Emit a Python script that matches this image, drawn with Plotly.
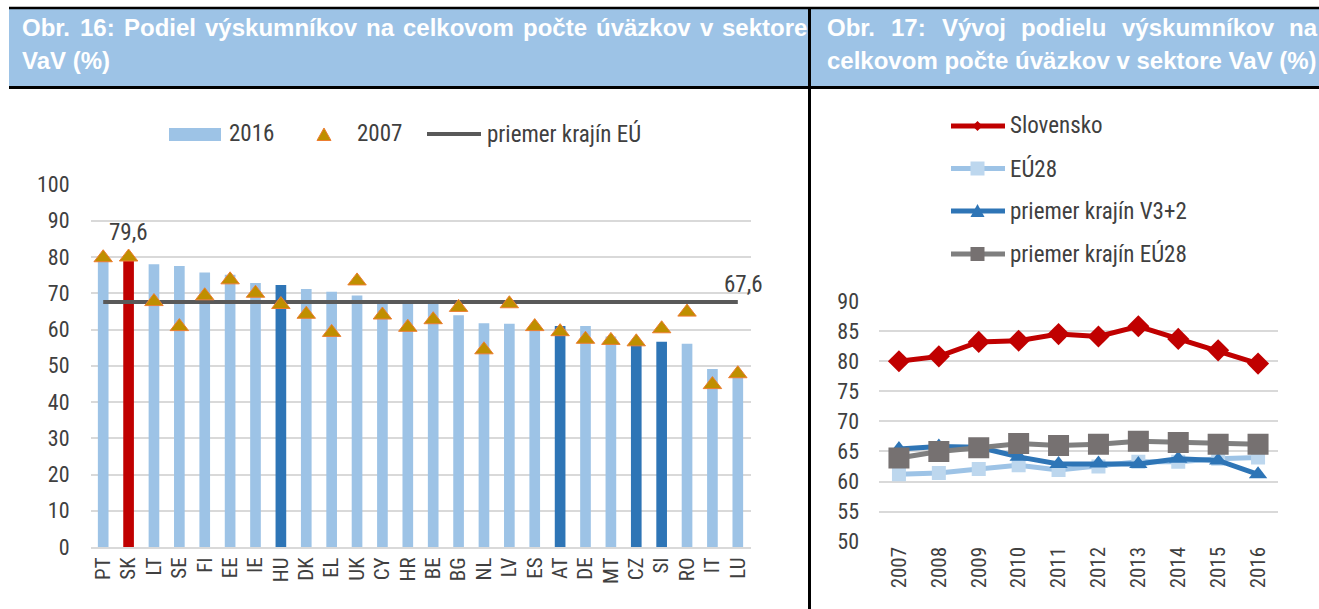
import plotly.graph_objects as go

# ---------------- data ----------------
countries = ["PT", "SK", "LT", "SE", "FI", "EE", "IE", "HU", "DK", "EL", "UK", "CY", "HR",
             "BE", "BG", "NL", "LV", "ES", "AT", "DE", "MT", "CZ", "SI", "RO", "IT", "LU"]
share_2016 = [79.9, 79.6, 78.0, 77.5, 75.7, 75.1, 72.8, 72.3, 71.2, 70.4, 69.4, 67.7, 67.5,
              67.3, 63.9, 61.7, 61.6, 61.3, 61.0, 61.0, 58.1, 56.9, 56.6, 56.1, 49.1, 48.3]
share_2007 = [79.8, 80.0, 67.7, 60.8, 69.3, 73.7, 70.0, 66.9, 64.2, 59.2, 73.4, 64.0, 60.6,
              62.7, 66.1, 54.4, 67.1, 60.8, 59.4, 57.3, 57.0, 56.6, 60.2, 64.8, 44.8, 47.8]
eu_avg_2016 = 67.6
highlight_sk = ["SK"]
highlight_v3 = ["HU", "AT", "CZ", "SI"]

years = ["2007", "2008", "2009", "2010", "2011", "2012", "2013", "2014", "2015", "2016"]
slovensko = [80.0, 80.8, 83.2, 83.4, 84.5, 84.1, 85.8, 83.7, 81.8, 79.6]
eu28 = [61.2, 61.4, 62.1, 62.7, 61.9, 62.5, 63.3, 63.3, 63.8, 64.0]
v3_2 = [65.4, 65.8, 65.7, 64.1, 62.9, 63.0, 62.9, 63.8, 63.5, 61.2]
eu28_avg = [63.9, 65.0, 65.6, 66.3, 66.0, 66.2, 66.7, 66.5, 66.2, 66.2]

title_left_1 = ["Obr.", "16:", "Podiel", "výskumníkov", "na", "celkovom", "počte", "úväzkov", "v", "sektore"]
title_left_2 = "VaV (%)"
title_right_1 = ["Obr.", "17:", "Vývoj", "podielu", "výskumníkov", "na"]
title_right_2 = "celkovom počte úväzkov v sektore VaV (%)"

# ---------------- style ----------------
W, H = 1319, 609
FONT = "Roboto Condensed, Liberation Sans Narrow, Arial Narrow, Liberation Sans, sans-serif"
HFONT = "Liberation Sans, Arial, sans-serif"
TXT = "#404040"
LIGHT = "#9DC3E6"
DARK = "#2E75B6"
RED = "#C00000"
GRID = "#D9D9D9"

# word positions (px) of the justified header lines
left_1_x = [20, 78.3, 122.0, 203.0, 364.1, 401.1, 520.8, 593.8, 697.5, 719.8]
right_1_x = [825, 889.4, 939.8, 1019.2, 1119.6, 1287]


def px(x):
    return x / W


def py(y):
    return 1 - y / H


def fmt(v):
    return f"{v:.1f}".replace(".", ",")


bar_colors = [RED if c in highlight_sk else DARK if c in highlight_v3 else LIGHT for c in countries]

fig = go.Figure()

# left chart
fig.add_trace(go.Bar(x=countries, y=share_2016, marker=dict(color=bar_colors, line=dict(width=0)),
                     width=0.42, xaxis="x", yaxis="y", showlegend=False, name="2016"))
fig.add_trace(go.Scatter(x=countries, y=[eu_avg_2016] * len(countries), mode="lines",
                         line=dict(color="#595959", width=4), xaxis="x", yaxis="y",
                         showlegend=False, name="priemer krajín EÚ"))
fig.add_trace(go.Scatter(x=countries, y=share_2007, mode="markers",
                         marker=dict(symbol="triangle-up", size=16, color="#BF8F00",
                                     line=dict(color="#ED7D31", width=1)),
                         xaxis="x", yaxis="y", showlegend=False, name="2007"))

# right chart
series = [
    ("Slovensko", slovensko, RED, RED, "diamond", 17, 5),
    ("EÚ28", eu28, LIGHT, "#BDD7EE", "square", 14, 5),
    ("priemer krajín V3+2", v3_2, DARK, DARK, "triangle-up", 16, 5),
    ("priemer krajín EÚ28", eu28_avg, "#7F7F7F", "#767171", "square", 21, 5),
]
for name, vals, lc, mc, sym, ms, lw in series:
    fig.add_trace(go.Scatter(x=years, y=vals, mode="lines+markers", name=name,
                             line=dict(color=lc, width=lw),
                             marker=dict(symbol=sym, size=ms, color=mc, line=dict(width=0)),
                             xaxis="x2", yaxis="y2", showlegend=False))

# ---------------- shapes (header + legends) ----------------
shapes = []
shapes.append(dict(type="rect", xref="paper", yref="paper", x0=px(9), x1=px(W), y0=py(87), y1=py(9),
                   fillcolor=LIGHT, line=dict(width=0), layer="below"))
shapes.append(dict(type="line", xref="paper", yref="paper", x0=px(9), x1=px(W), y0=py(8), y1=py(8),
                   line=dict(color="black", width=2.5)))
shapes.append(dict(type="line", xref="paper", yref="paper", x0=px(9), x1=px(W), y0=py(87.5), y1=py(87.5),
                   line=dict(color="black", width=3)))
shapes.append(dict(type="line", xref="paper", yref="paper", x0=px(809.5), x1=px(809.5), y0=py(8), y1=py(H),
                   line=dict(color="black", width=3)))


def poly(points, fill, line_color=None, lw=0):
    path = "M " + " L ".join(f"{px(a):.5f},{py(b):.5f}" for a, b in points) + " Z"
    return dict(type="path", xref="paper", yref="paper", path=path, fillcolor=fill,
                line=dict(color=line_color or fill, width=lw))


# left legend
LY = 134
shapes.append(dict(type="rect", xref="paper", yref="paper", x0=px(169), x1=px(221), y0=py(141), y1=py(128),
                   fillcolor=LIGHT, line=dict(width=0)))
shapes.append(poly([(317, 140.5), (331, 140.5), (324, 128)], "#BF8F00", "#ED7D31", 1))
shapes.append(dict(type="line", xref="paper", yref="paper", x0=px(427), x1=px(481), y0=py(LY), y1=py(LY),
                   line=dict(color="#595959", width=4)))

# right legend
leg_y = [126, 168.5, 211, 254]
cx = 977.5
for (name, vals, lc, mc, sym, ms, lw), yy in zip(series, leg_y):
    shapes.append(dict(type="line", xref="paper", yref="paper", x0=px(951), x1=px(1005), y0=py(yy), y1=py(yy),
                       line=dict(color=lc, width=5)))
    if sym == "diamond":
        shapes.append(poly([(cx - 5, yy), (cx, yy - 5), (cx + 5, yy), (cx, yy + 5)], mc))
    elif sym == "square":
        s = 7
        shapes.append(dict(type="rect", xref="paper", yref="paper", x0=px(cx - s), x1=px(cx + s),
                           y0=py(yy + s), y1=py(yy - s), fillcolor=mc, line=dict(width=0)))
    else:
        shapes.append(poly([(cx - 7, yy + 6), (cx + 7, yy + 6), (cx, yy - 7)], mc))

# ---------------- annotations ----------------
ann = []
HF = dict(family=HFONT, size=24, color="white")


def head(text, x, y):
    ann.append(dict(text=f"<b>{text}</b>", x=px(x), y=py(y), xref="paper", yref="paper",
                    xanchor="left", yanchor="middle", showarrow=False, font=HF))


for word, xx in zip(title_left_1, left_1_x):
    head(word, xx, 28)
head(title_left_2, 20, 61)
for word, xx in zip(title_right_1, right_1_x):
    head(word, xx, 28)
head(title_right_2, 825, 61)

LF = dict(family=FONT, size=23, color=TXT)
for t, xx in [("2016", 227), ("2007", 355), ("priemer krajín EÚ", 485)]:
    ann.append(dict(text=t, x=px(xx), y=py(LY), xref="paper", yref="paper", xanchor="left",
                    yanchor="middle", showarrow=False, font=LF))
for (name, *_), yy in zip(series, leg_y):
    ann.append(dict(text=name, x=px(1008), y=py(yy), xref="paper", yref="paper", xanchor="left",
                    yanchor="middle", showarrow=False, font=LF))

# data labels
sk_i = countries.index("SK")
ann.append(dict(text=fmt(share_2016[sk_i]), x="SK", y=share_2016[sk_i], xref="x", yref="y",
                yshift=26, showarrow=False, font=dict(family=FONT, size=23, color=TXT)))
ann.append(dict(text=fmt(eu_avg_2016), x=countries[-1], y=eu_avg_2016, xref="x", yref="y",
                yshift=17, xshift=6, showarrow=False, font=dict(family=FONT, size=23, color=TXT)))
ann.append(dict(text=fmt(slovensko[-1]), x=years[-1], y=slovensko[-1], xref="x2", yref="y2",
                yshift=23, showarrow=False, font=dict(family=FONT, size=23, color=RED)))
ann.append(dict(text=fmt(eu28_avg[-1]), x=years[-1], y=eu28_avg[-1], xref="x2", yref="y2",
                yshift=20, showarrow=False, font=dict(family=FONT, size=23, color=TXT)))

fig.update_layout(
    width=W, height=H, autosize=False,
    margin=dict(l=0, r=0, t=0, b=0, pad=0, autoexpand=False),
    paper_bgcolor="white", plot_bgcolor="white",
    font=dict(family=FONT, size=21, color=TXT),
    barmode="overlay", showlegend=False,
    shapes=shapes, annotations=ann,
    xaxis=dict(domain=[px(90.5), px(750.5)], type="category", range=[-0.5, 25.5], tickangle=-90,
               showgrid=False, showline=True, linecolor=GRID, linewidth=2, ticks="",
               tickfont=dict(size=21, color=TXT), anchor="y", fixedrange=True, automargin=False),
    yaxis=dict(domain=[py(547), py(184.5)], range=[0, 100], dtick=10, showgrid=True,
               gridcolor=GRID, gridwidth=2, zeroline=False, ticks="", ticklabelstandoff=20,
               tickfont=dict(size=22, color=TXT), anchor="x", fixedrange=True, automargin=False),
    xaxis2=dict(domain=[px(879), px(1278)], type="category", range=[-0.5, 9.5], tickangle=-90,
                showgrid=False, showline=False, ticks="", tickfont=dict(size=21, color=TXT),
                anchor="y2", fixedrange=True, automargin=False),
    yaxis2=dict(domain=[py(541.7), py(301)], range=[50, 90], dtick=5, showgrid=True,
                gridcolor=GRID, gridwidth=2, zeroline=False, ticks="", ticklabelstandoff=19,
                tickfont=dict(size=22, color=TXT), anchor="x2", fixedrange=True, automargin=False),
)

fig.write_html("out.html", config={"displayModeBar": False},
               post_script="document.body.style.margin='0';")
